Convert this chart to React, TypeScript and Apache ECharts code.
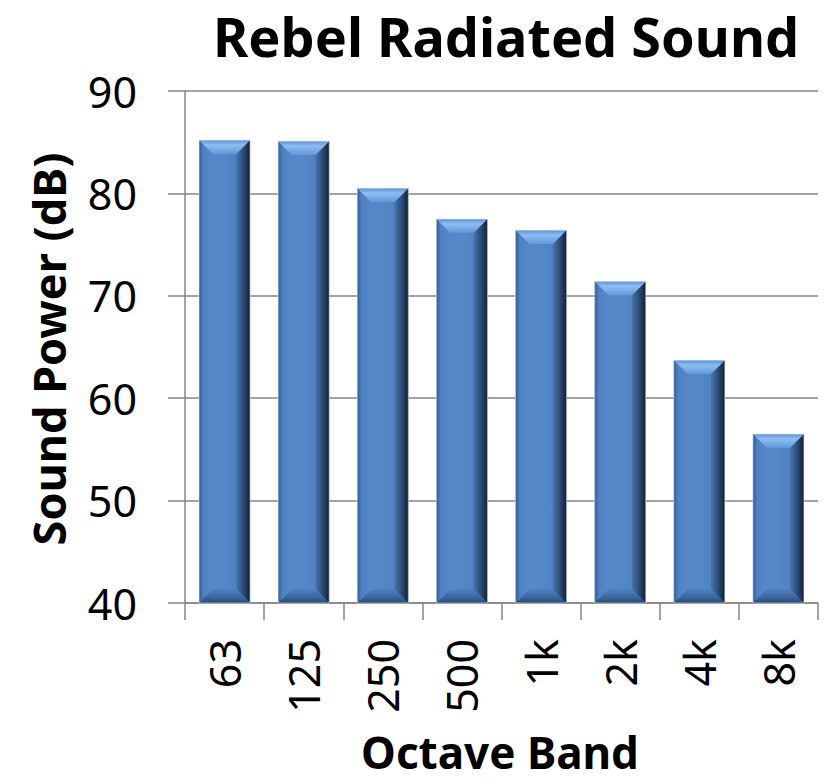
import React, { useEffect, useRef } from "react";
import * as echarts from "echarts";

const categories = ["63", "125", "250", "500", "1k", "2k", "4k", "8k"];
const soundPower = [85.2, 85.1, 80.5, 77.5, 76.4, 71.4, 63.7, 56.5];
const yMin = 40;
const yMax = 90;
const yStep = 10;
const chartTitle = "Rebel Radiated Sound";
const xTitle = "Octave Band";
const yTitle = "Sound Power (dB)";

const FONT = "Noto Sans";

function grad(x0: number, y0: number, x1: number, y1: number, stops: [number, string][]) {
  return new echarts.graphic.LinearGradient(
    x0,
    y0,
    x1,
    y1,
    stops.map(([offset, color]) => ({ offset, color }))
  );
}

export default function App() {
  const ref = useRef<HTMLDivElement>(null);

  useEffect(() => {
    if (!ref.current) return;
    const chart = echarts.init(ref.current, null, { renderer: "svg" });

    const faceFill = grad(0, 0, 1, 0, [
      [0, "#3e6aa6"],
      [0.08, "#5586c8"],
      [0.5, "#5587c9"],
      [0.85, "#4f7fbe"],
      [1, "#3b6296"],
    ]);

    const option: any = {
      animation: false,
      backgroundColor: "#ffffff",
      grid: { left: 185, right: 7, top: 91, bottom: 179, containLabel: false },
      xAxis: {
        type: "category",
        data: categories,
        boundaryGap: true,
        axisLine: { show: true, lineStyle: { color: "#868686", width: 1.5 } },
        axisTick: { show: true, length: 17, alignWithLabel: false, lineStyle: { color: "#868686", width: 1.5 } },
        axisLabel: {
          interval: 0,
          rotate: 90,
          margin: 36,
          fontSize: 43,
          color: "#000000",
          fontFamily: FONT,
        },
        splitLine: { show: false },
      },
      yAxis: {
        type: "value",
        min: yMin,
        max: yMax,
        interval: yStep,
        axisLine: { show: true, lineStyle: { color: "#868686", width: 1.5 } },
        axisTick: { show: true, length: 17, lineStyle: { color: "#868686", width: 1.5 } },
        axisLabel: {
          margin: 48,
          fontSize: 43,
          color: "#000000",
          fontFamily: FONT,
        },
        splitLine: { show: true, lineStyle: { color: "#868686", width: 1.5 } },
      },
      graphic: [
        {
          type: "text",
          x: 506,
          y: 36,
          style: {
            text: chartTitle,
            fontSize: 54,
            fontWeight: "bold",
            fontFamily: FONT,
            fill: "#000000",
            textAlign: "center",
            textVerticalAlign: "middle",
          },
        },
        {
          type: "text",
          x: 500,
          y: 752,
          style: {
            text: xTitle,
            fontSize: 44,
            lineHeight: 44,
            fontWeight: "bold",
            fontFamily: FONT,
            fill: "#000000",
            textAlign: "center",
            textVerticalAlign: "middle",
          },
        },
        {
          type: "text",
          x: 48,
          y: 349,
          rotation: Math.PI / 2,
          style: {
            text: yTitle,
            fontSize: 45,
            fontWeight: "bold",
            fontFamily: FONT,
            fill: "#000000",
            textAlign: "center",
            textVerticalAlign: "middle",
          },
        },
      ],
      series: [
        {
          type: "custom",
          encode: { x: 0, y: 1 },
          data: soundPower.map((v, i) => [i, v]),
          renderItem: (params: any, api: any) => {
            const idx = api.value(0);
            const val = api.value(1);
            const top = api.coord([idx, val]);
            const base = api.coord([idx, yMin]);
            const bw = api.size([1, 0])[0] * 0.645;
            const x0 = top[0] - bw / 2;
            const x1 = top[0] + bw / 2;
            const yt = top[1];
            const yb = base[1];
            const b = Math.min(14, bw * 0.27, (yb - yt) / 2);
            return {
              type: "group",
              children: [
                {
                  type: "rect",
                  shape: { x: x0, y: yt, width: bw, height: yb - yt },
                  style: { fill: faceFill },
                },
                {
                  type: "polygon",
                  shape: { points: [[x0, yt], [x0 + b, yt + b], [x0 + b, yb - b], [x0, yb]] },
                  style: {
                    fill: grad(0, 0, 1, 0, [
                      [0, "#2f5a93"],
                      [0.3, "#4e80c2"],
                      [1, "#5788ca"],
                    ]),
                  },
                },
                {
                  type: "polygon",
                  shape: { points: [[x1, yt], [x1 - b, yt + b], [x1 - b, yb - b], [x1, yb]] },
                  style: {
                    fill: grad(0, 0, 1, 0, [
                      [0, "#4674ae"],
                      [0.5, "#2e4d78"],
                      [1, "#141f31"],
                    ]),
                  },
                },
                {
                  type: "polygon",
                  shape: { points: [[x0, yt], [x1, yt], [x1 - b, yt + b], [x0 + b, yt + b]] },
                  style: {
                    fill: grad(0, 0, 0, 1, [
                      [0, "#5e91d2"],
                      [0.35, "#8dbdf2"],
                      [1, "#6398da"],
                    ]),
                  },
                },
                {
                  type: "polygon",
                  shape: { points: [[x0, yb], [x1, yb], [x1 - b, yb - b], [x0 + b, yb - b]] },
                  style: {
                    fill: grad(0, 0, 0, 1, [
                      [0, "#4f80c0"],
                      [0.6, "#3a659d"],
                      [1, "#284a77"],
                    ]),
                  },
                },
                {
                  type: "rect",
                  shape: { x: x0, y: yt, width: bw, height: yb - yt },
                  style: { fill: "none", stroke: "rgba(220,230,245,0.6)", lineWidth: 1 },
                },
              ],
            };
          },
        },
      ],
    };

    chart.setOption(option);
    return () => chart.dispose();
  }, []);

  return (
    <div
      ref={ref}
      style={{ position: "fixed", left: 0, top: 0, width: 825, height: 782, background: "#fff" }}
    />
  );
}
